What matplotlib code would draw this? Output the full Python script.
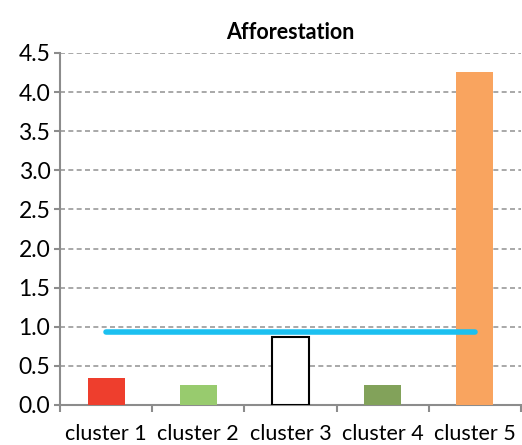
import matplotlib.pyplot as plt
from matplotlib.ticker import FixedLocator

categories = ['cluster 1', 'cluster 2', 'cluster 3', 'cluster 4', 'cluster 5']
values = [0.345, 0.256, 0.87, 0.256, 4.26]
average = [0.93, 0.93, 0.93, 0.93, 0.93]
bar_colors = ['#EE3E2D', '#98CB6E', '#FFFFFF', '#82A25A', '#F9A45F']
edge_colors = ['none', 'none', '#000000', 'none', 'none']
yticks = [0.0, 0.5, 1.0, 1.5, 2.0, 2.5, 3.0, 3.5, 4.0, 4.5]

plt.rcParams['font.family'] = ['Lato', 'DejaVu Sans']

fig = plt.figure(figsize=(5.22, 4.45), dpi=100)
ax = fig.add_axes([0.115, 0.09, 0.883, 0.791])

x = list(range(len(categories)))
ax.bar(x, values, width=0.4, color=bar_colors, edgecolor=edge_colors, linewidth=1.5, zorder=3)
ax.plot(x, average, color='#1CC0F0', linewidth=4, solid_capstyle='round', zorder=4)

ax.set_xlim(-0.5, 4.5)
ax.set_ylim(0, 4.5)
ax.set_yticks(yticks)
ax.set_yticklabels([f'{v:.1f}' for v in yticks], fontsize=16.5)
ax.set_xticks(x)
ax.set_xticklabels(categories, fontsize=15.5)
ax.tick_params(axis='x', which='major', length=0, pad=14)
ax.xaxis.set_minor_locator(FixedLocator([-0.5, 0.5, 1.5, 2.5, 3.5, 4.5]))
ax.tick_params(axis='x', which='minor', length=5, width=1.5, color='#8C8C8C')
ax.tick_params(axis='y', length=4, width=1.5, color='#8C8C8C', pad=3)

ax.yaxis.grid(True, linestyle=(0, (3, 2)), color='#9A9A9A', linewidth=1.2, zorder=0)
for side in ['top', 'right']:
    ax.spines[side].set_visible(False)
for side in ['left', 'bottom']:
    ax.spines[side].set_color('#8C8C8C')
    ax.spines[side].set_linewidth(1.5)

ax.set_title('Afforestation', fontsize=15.5, fontweight='bold', pad=10)

fig.savefig('out.png', dpi=100)
